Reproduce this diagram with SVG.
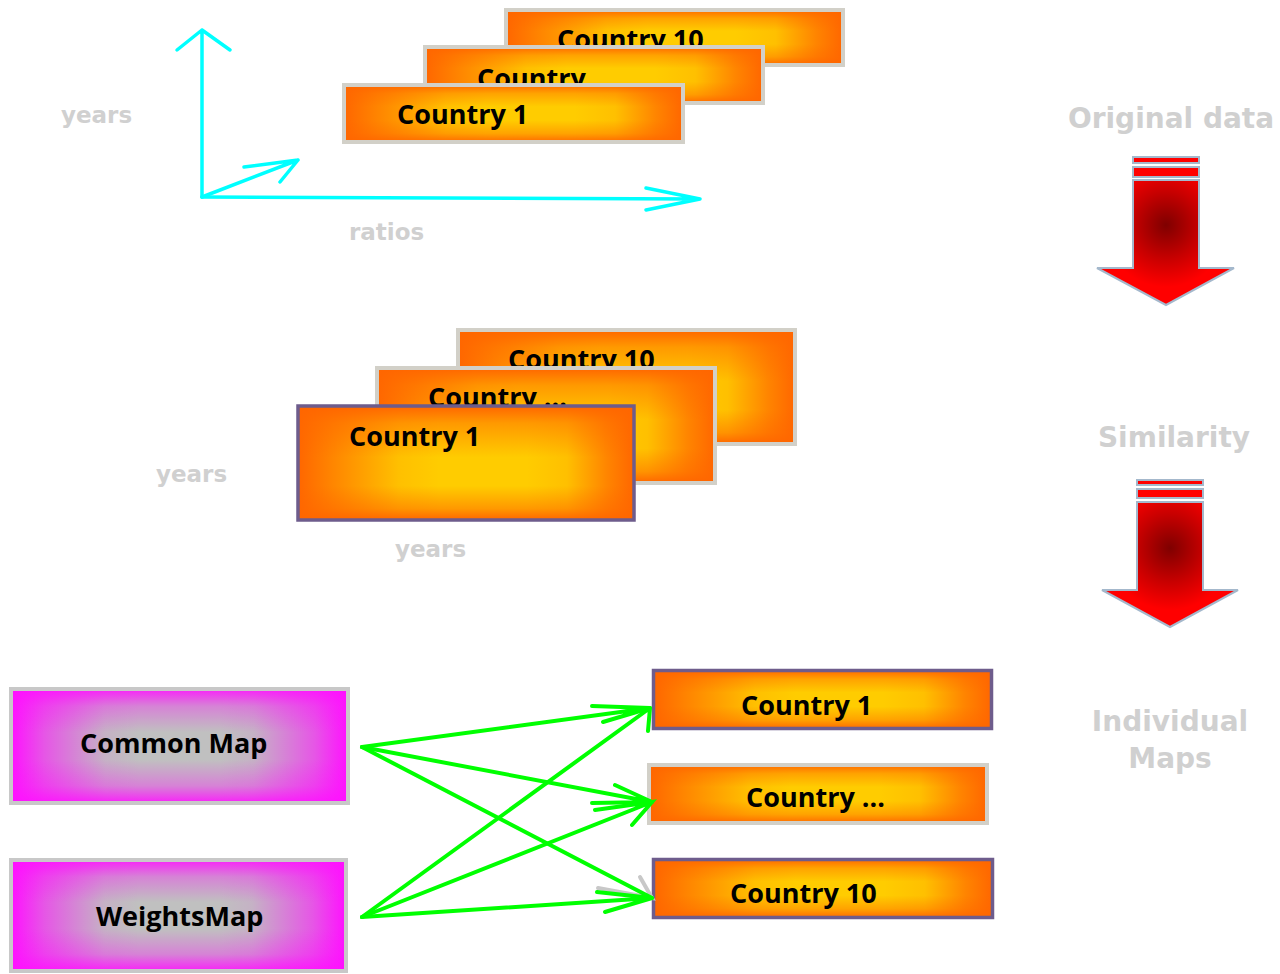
<svg xmlns="http://www.w3.org/2000/svg" width="1280" height="974" viewBox="0 0 1280 974">
<style>
.lbl{font-family:"Open Sans","Noto Sans","Liberation Sans",sans-serif;font-weight:700;font-size:27px;fill:#000}
.gray{font-family:"DejaVu Sans","Liberation Sans",sans-serif;font-weight:700;fill:#d0d0d0}
.big{font-size:28px}
.small{font-size:23px}
.ob{fill:#ffcc00}
.oh{fill:url(#ohg)}
.ov{fill:url(#ovg)}
.ov2{fill:url(#ovg2)}
.mb{fill:#c0c0c0}
.mh{fill:url(#mhg)}
.mv{fill:url(#mvg)}
.gb{fill:none;stroke:#d2d0c8;stroke-width:4}
.pb{fill:none;stroke:#6e5c8c;stroke-width:3.5}
.mbd{fill:none;stroke:#c8c8c8;stroke-width:4}
.axis{fill:none;stroke:#00ffff;stroke-width:3.5;stroke-linecap:round;stroke-linejoin:round}
.conn{fill:none;stroke:#00ff00;stroke-width:4;stroke-linecap:round}
.ghost{fill:none;stroke:#c8c8c8;stroke-width:4;stroke-linecap:round}
.bar{fill:#ff0000;stroke:#a4b8cc;stroke-width:2}
</style>
<defs>
<linearGradient id="ohg" x1="0" y1="0" x2="1" y2="0">
<stop offset="0" stop-color="#ff6600" stop-opacity="1"/>
<stop offset="0.1" stop-color="#ff6600" stop-opacity="0.7"/>
<stop offset="0.3" stop-color="#ff6600" stop-opacity="0.12"/>
<stop offset="0.42" stop-color="#ff6600" stop-opacity="0"/>
<stop offset="0.68" stop-color="#ff6600" stop-opacity="0"/>
<stop offset="0.8" stop-color="#ff6600" stop-opacity="0.12"/>
<stop offset="0.92" stop-color="#ff6600" stop-opacity="0.7"/>
<stop offset="1" stop-color="#ff6600" stop-opacity="1"/>
</linearGradient>
<linearGradient id="ovg" x1="0" y1="0" x2="0" y2="1">
<stop offset="0" stop-color="#ff6600" stop-opacity="0.95"/>
<stop offset="0.15" stop-color="#ff6600" stop-opacity="0.4"/>
<stop offset="0.38" stop-color="#ff6600" stop-opacity="0"/>
<stop offset="0.62" stop-color="#ff6600" stop-opacity="0"/>
<stop offset="0.85" stop-color="#ff6600" stop-opacity="0.4"/>
<stop offset="1" stop-color="#ff6600" stop-opacity="0.95"/>
</linearGradient>
<linearGradient id="ovg2" x1="0" y1="0" x2="0" y2="1">
<stop offset="0" stop-color="#ff6600" stop-opacity="1"/>
<stop offset="0.15" stop-color="#ff6600" stop-opacity="0.5"/>
<stop offset="0.45" stop-color="#ff6600" stop-opacity="0"/>
<stop offset="0.7" stop-color="#ff6600" stop-opacity="0"/>
<stop offset="0.9" stop-color="#ff6600" stop-opacity="0.5"/>
<stop offset="1" stop-color="#ff6600" stop-opacity="1"/>
</linearGradient>
<linearGradient id="mhg" x1="0" y1="0" x2="1" y2="0">
<stop offset="0" stop-color="#ff10ff" stop-opacity="1"/>
<stop offset="0.1" stop-color="#ff10ff" stop-opacity="0.6"/>
<stop offset="0.28" stop-color="#ff10ff" stop-opacity="0.08"/>
<stop offset="0.38" stop-color="#ff10ff" stop-opacity="0"/>
<stop offset="0.62" stop-color="#ff10ff" stop-opacity="0"/>
<stop offset="0.72" stop-color="#ff10ff" stop-opacity="0.08"/>
<stop offset="0.9" stop-color="#ff10ff" stop-opacity="0.6"/>
<stop offset="1" stop-color="#ff10ff" stop-opacity="1"/>
</linearGradient>
<linearGradient id="mvg" x1="0" y1="0" x2="0" y2="1">
<stop offset="0" stop-color="#ff10ff" stop-opacity="0.9"/>
<stop offset="0.15" stop-color="#ff10ff" stop-opacity="0.35"/>
<stop offset="0.38" stop-color="#ff10ff" stop-opacity="0"/>
<stop offset="0.62" stop-color="#ff10ff" stop-opacity="0"/>
<stop offset="0.85" stop-color="#ff10ff" stop-opacity="0.35"/>
<stop offset="1" stop-color="#ff10ff" stop-opacity="0.9"/>
</linearGradient>
<radialGradient id="rg1" gradientUnits="userSpaceOnUse" cx="1166" cy="225" r="62">
<stop offset="0" stop-color="#7f0000"/>
<stop offset="0.55" stop-color="#c80000"/>
<stop offset="1" stop-color="#ff0000"/>
</radialGradient>
<radialGradient id="rg2" gradientUnits="userSpaceOnUse" cx="1170" cy="548" r="62">
<stop offset="0" stop-color="#7f0000"/>
<stop offset="0.55" stop-color="#c80000"/>
<stop offset="1" stop-color="#ff0000"/>
</radialGradient>
</defs>

<g id="axes">
<path class="axis" d="M202,197 L202,30 M177,50 L202,30 L230,50"/>
<path class="axis" d="M202,197 L700,199 M646,188 L700,199 L646,210"/>
<path class="axis" d="M202,197 L298,160 M244,167 L298,160 L280,182"/>
<text class="gray small" x="61" y="123">years</text>
<text class="gray small" x="349" y="240">ratios</text>
</g>

<g id="top-country-10">
<rect class="ob" x="506" y="10" width="337" height="55"/>
<rect class="oh" x="506" y="10" width="337" height="55"/>
<rect class="ov" x="506" y="10" width="337" height="55"/>
<rect class="gb" x="506" y="10" width="337" height="55"/>
<text class="lbl" x="557" y="49">Country 10</text>
</g>
<g id="top-country-etc">
<rect class="ob" x="425" y="47" width="338" height="56"/>
<rect class="oh" x="425" y="47" width="338" height="56"/>
<rect class="ov" x="425" y="47" width="338" height="56"/>
<rect class="gb" x="425" y="47" width="338" height="56"/>
<text class="lbl" x="477" y="88">Country ...</text>
</g>
<g id="top-country-1">
<rect class="ob" x="344" y="85" width="339" height="57"/>
<rect class="oh" x="344" y="85" width="339" height="57"/>
<rect class="ov" x="344" y="85" width="339" height="57"/>
<rect class="gb" x="344" y="85" width="339" height="57"/>
<text class="lbl" x="397" y="124">Country 1</text>
</g>

<g id="mid-country-10">
<rect class="ob" x="458" y="330" width="337" height="114"/>
<rect class="oh" x="458" y="330" width="337" height="114"/>
<rect class="ov2" x="458" y="330" width="337" height="114"/>
<rect class="gb" x="458" y="330" width="337" height="114"/>
<text class="lbl" x="508" y="369">Country 10</text>
</g>
<g id="mid-country-etc">
<rect class="ob" x="377" y="368" width="338" height="115"/>
<rect class="oh" x="377" y="368" width="338" height="115"/>
<rect class="ov2" x="377" y="368" width="338" height="115"/>
<rect class="gb" x="377" y="368" width="338" height="115"/>
<text class="lbl" x="428" y="407">Country ...</text>
</g>
<g id="mid-country-1">
<rect class="ob" x="298" y="406" width="336" height="114"/>
<rect class="oh" x="298" y="406" width="336" height="114"/>
<rect class="ov2" x="298" y="406" width="336" height="114"/>
<rect class="pb" x="298" y="406" width="336" height="114"/>
<text class="lbl" x="349" y="446">Country 1</text>
</g>
<g id="mid-labels">
<text class="gray small" x="156" y="482">years</text>
<text class="gray small" x="395" y="557">years</text>
</g>

<g id="common-map">
<rect class="mb" x="11" y="689" width="337" height="114"/>
<rect class="mh" x="11" y="689" width="337" height="114"/>
<rect class="mv" x="11" y="689" width="337" height="114"/>
<rect class="mbd" x="11" y="689" width="337" height="114"/>
<text class="lbl" x="80" y="753">Common Map</text>
</g>
<g id="weights-map">
<rect class="mb" x="11" y="860" width="335" height="111"/>
<rect class="mh" x="11" y="860" width="335" height="111"/>
<rect class="mv" x="11" y="860" width="335" height="111"/>
<rect class="mbd" x="11" y="860" width="335" height="111"/>
<text class="lbl" x="96" y="926">WeightsMap</text>
</g>

<g id="ind-country-1">
<rect class="ob" x="653.5" y="670.5" width="338" height="58"/>
<rect class="oh" x="653.5" y="670.5" width="338" height="58"/>
<rect class="ov" x="653.5" y="670.5" width="338" height="58"/>
<rect class="pb" x="653.5" y="670.5" width="338" height="58"/>
<text class="lbl" x="741" y="715">Country 1</text>
</g>
<g id="ind-country-etc">
<rect class="ob" x="649" y="765" width="338" height="58"/>
<rect class="oh" x="649" y="765" width="338" height="58"/>
<rect class="ov" x="649" y="765" width="338" height="58"/>
<rect class="gb" x="649" y="765" width="338" height="58"/>
<text class="lbl" x="746" y="807">Country ...</text>
</g>
<g id="ind-country-10">
<rect class="ob" x="653.5" y="859.5" width="339" height="58"/>
<rect class="oh" x="653.5" y="859.5" width="339" height="58"/>
<rect class="ov" x="653.5" y="859.5" width="339" height="58"/>
<rect class="pb" x="653.5" y="859.5" width="339" height="58"/>
<text class="lbl" x="730" y="903">Country 10</text>
</g>

<g id="connectors">
<path class="ghost" d="M598,888 L652,898 L640,877"/>
<path class="conn" d="M362,747 L650,708 M592,706 L650,708 L603,722"/>
<path class="conn" d="M362,747 L652,802 M615,785 L652,802 L592,803"/>
<path class="conn" d="M362,747 L652,898"/>
<path class="conn" d="M362,917 L650,708 M648,731 L650,708"/>
<path class="conn" d="M362,917 L652,802 M595,810 L652,802 L632,825"/>
<path class="conn" d="M362,917 L652,898 M597,892 L652,898 L605,912"/>
</g>

<g id="step-original">
<text class="gray big" x="1171" y="128" text-anchor="middle">Original data</text>
</g>
<g id="arrow-1">
<rect class="bar" x="1133" y="157" width="66" height="6"/>
<rect class="bar" x="1133" y="167" width="66" height="10"/>
<path d="M1133,180 L1199,180 L1199,268 L1234,268 L1166,305 L1097,268 L1133,268 Z" fill="url(#rg1)" stroke="#a4b8cc" stroke-width="2"/>
</g>
<g id="step-similarity">
<text class="gray big" x="1174" y="447" text-anchor="middle">Similarity</text>
</g>
<g id="arrow-2">
<rect class="bar" x="1137" y="480" width="66" height="5"/>
<rect class="bar" x="1137" y="489" width="66" height="9"/>
<path d="M1137,502 L1203,502 L1203,590 L1238,590 L1170,627 L1102,590 L1137,590 Z" fill="url(#rg2)" stroke="#a4b8cc" stroke-width="2"/>
</g>
<g id="step-individual">
<text class="gray big" x="1170" y="731" text-anchor="middle">Individual</text>
<text class="gray big" x="1170" y="768" text-anchor="middle">Maps</text>
</g>
</svg>
